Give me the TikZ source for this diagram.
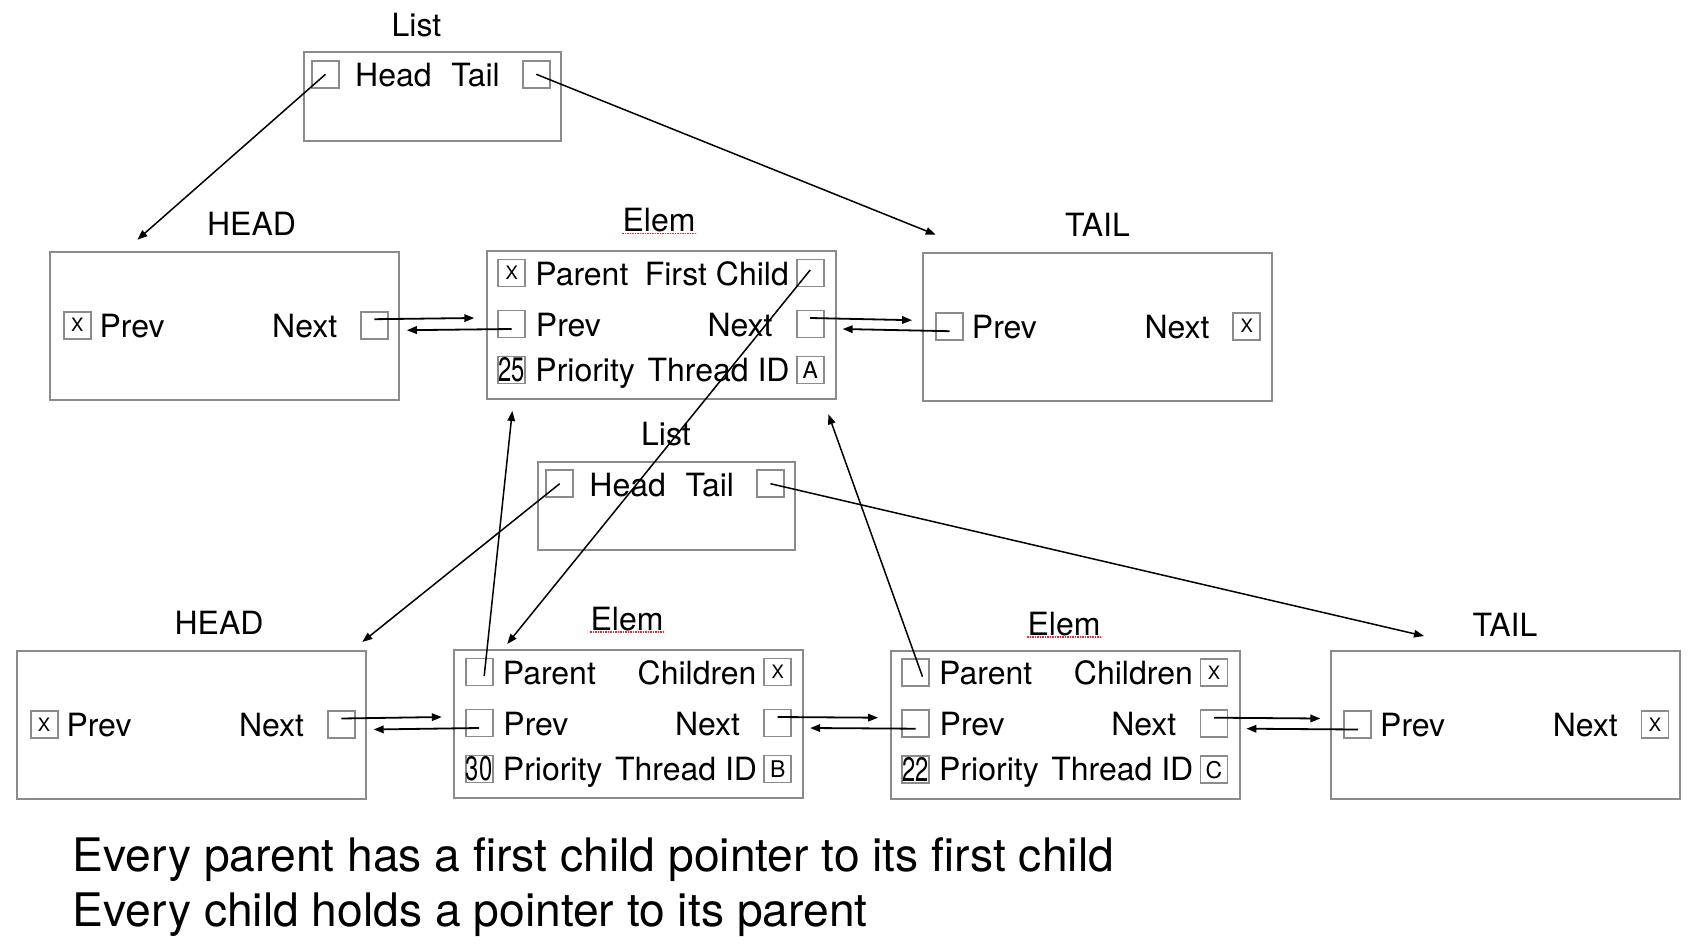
\documentclass[tikz,border=0pt]{standalone}
\usepackage{fontspec}
\setmainfont{TeX Gyre Heros}
\usepackage{tikz}
\usetikzlibrary{arrows.meta}
\definecolor{boxgray}{RGB}{137,139,142}
\definecolor{spellred}{RGB}{225,45,45}

\begin{document}
\begin{tikzpicture}[x=1pt, y=-1pt,
    box/.style={draw=boxgray, line width=2pt, minimum width=349pt, minimum height=148pt, inner sep=0pt},
    listbox/.style={box, minimum width=257.5pt, minimum height=88.5pt},
    cell/.style={draw=boxgray, line width=1.8pt, minimum size=27pt, inner sep=0pt, font=\fontsize{23}{23}\selectfont},
    xcell/.style={cell, font=\fontsize{18.5}{18.5}\selectfont},
    numcell/.style={cell, font=\fontsize{34}{34}\selectfont},
    txt/.style={inner sep=0pt, font=\fontsize{32}{38}\selectfont},
    note/.style={inner sep=0pt, anchor=base west, font=\fontsize{46.2}{50}\selectfont},
    squiggle/.style={spellred, densely dotted, line width=1.5pt},
    ptr/.style={line width=1.8pt, -{Triangle[length=10pt,width=7.5pt]}},
    link/.style={line width=1.5pt, -{Triangle[length=10pt,width=7.5pt]}}]

  % Page
  \fill[white] (0,0) rectangle (1694,952);

  % List (top)
  \node[txt, anchor=base] (l1lbl) at (416.5,36.7) {List};
  \node[listbox] (l1) at (432.25,96.55) {};
  \node[cell] (l1head) at (325.5,74.3) {};
  \node[txt, anchor=base west] (l1htxt) at (355,86.8) {Head};
  \node[txt, anchor=base east] (l1ttxt) at (500,86.8) {Tail};
  \node[cell] (l1tail) at (536.3,74.3) {};

  % HEAD (top)
  \node[txt, anchor=base] (h1lbl) at (251.5,235) {HEAD};
  \node[box] (h1) at (224.9,325.7) {};
  \node[xcell] (h1prev) at (77.2,325.2) {X};
  \node[txt, anchor=base west] (h1ptxt) at (99.4,337.2) {Prev};
  \node[txt, anchor=base east] (h1ntxt) at (337.4,337.2) {Next};
  \node[cell] (h1next) at (374.4,325.2) {};

  % Elem (top, thread A)
  \node[txt, anchor=base] (e1lbl) at (659,231.5) {Elem};
  \draw[squiggle] ([yshift=-2pt]e1lbl.base west) -- ([yshift=-2pt]e1lbl.base east);
  \node[box] (e1) at (661.2,325) {};
  \node[xcell] (e1par) at (511.7,273) {X};
  \node[txt, anchor=base west] (e1partxt) at (535.2,285) {Parent};
  \node[txt, anchor=base east] (e1fctxt) at (789,285) {First Child};
  \node[cell] (e1fc) at (810.2,273) {};
  \node[cell] (e1prev) at (511.7,324) {};
  \node[txt, anchor=base west] (e1ptxt) at (535.7,336) {Prev};
  \node[txt, anchor=base east] (e1ntxt) at (772.7,336) {Next};
  \node[cell] (e1next) at (810.2,324) {};
  \node[numcell] (e1pri) at (511.7,370) {\scalebox{0.7}[1]{25}};
  \node[txt, anchor=base west] (e1pritxt) at (535.2,381) {Priority};
  \node[txt, anchor=base east] (e1tidtxt) at (789.7,381) {Thread ID};
  \node[cell] (e1tid) at (810.2,370) {A};

  % TAIL (top)
  \node[txt, anchor=base] (t1lbl) at (1097.5,236.7) {TAIL};
  \node[box] (t1) at (1097.2,326.7) {};
  \node[cell] (t1prev) at (949.5,326.2) {};
  \node[txt, anchor=base west] (t1ptxt) at (971.7,338.2) {Prev};
  \node[txt, anchor=base east] (t1ntxt) at (1209.7,338.2) {Next};
  \node[xcell] (t1next) at (1246.7,326.2) {X};

  % List (children of A)
  \node[txt, anchor=base] (l2lbl) at (666,445) {List};
  \node[listbox] (l2) at (666.45,505.95) {};
  \node[cell] (l2head) at (559.7,483.7) {};
  \node[txt, anchor=base west] (l2htxt) at (589.2,496.2) {Head};
  \node[txt, anchor=base east] (l2ttxt) at (734.2,496.2) {Tail};
  \node[cell] (l2tail) at (770.5,483.7) {};

  % HEAD (bottom)
  \node[txt, anchor=base] (h2lbl) at (219,634) {HEAD};
  \node[box] (h2) at (191.8,725) {};
  \node[xcell] (h2prev) at (44.1,724.5) {X};
  \node[txt, anchor=base west] (h2ptxt) at (66.3,736.5) {Prev};
  \node[txt, anchor=base east] (h2ntxt) at (304.3,736.5) {Next};
  \node[cell] (h2next) at (341.3,724.5) {};

  % Elem (thread B)
  \node[txt, anchor=base] (e2lbl) at (627,630) {Elem};
  \draw[squiggle] ([yshift=-2pt]e2lbl.base west) -- ([yshift=-2pt]e2lbl.base east);
  \node[box] (e2) at (628.7,724) {};
  \node[cell] (e2par) at (479.2,672) {};
  \node[txt, anchor=base west] (e2partxt) at (502.7,684) {Parent};
  \node[txt, anchor=base east] (e2chtxt) at (756.7,684) {Children};
  \node[xcell] (e2ch) at (777.7,672) {X};
  \node[cell] (e2prev) at (479.2,723) {};
  \node[txt, anchor=base west] (e2ptxt) at (503.2,735) {Prev};
  \node[txt, anchor=base east] (e2ntxt) at (740.2,735) {Next};
  \node[cell] (e2next) at (777.7,723) {};
  \node[numcell] (e2pri) at (479.2,769) {\scalebox{0.7}[1]{30}};
  \node[txt, anchor=base west] (e2pritxt) at (502.7,780) {Priority};
  \node[txt, anchor=base east] (e2tidtxt) at (757.2,780) {Thread ID};
  \node[cell] (e2tid) at (777.7,769) {B};

  % Elem (thread C)
  \node[txt, anchor=base] (e3lbl) at (1064,635) {Elem};
  \draw[squiggle] ([yshift=-2pt]e3lbl.base west) -- ([yshift=-2pt]e3lbl.base east);
  \node[box] (e3) at (1065,724.7) {};
  \node[cell] (e3par) at (915.5,672.7) {};
  \node[txt, anchor=base west] (e3partxt) at (939,684.7) {Parent};
  \node[txt, anchor=base east] (e3chtxt) at (1193,684.7) {Children};
  \node[xcell] (e3ch) at (1214,672.7) {X};
  \node[cell] (e3prev) at (915.5,723.7) {};
  \node[txt, anchor=base west] (e3ptxt) at (939.5,735.7) {Prev};
  \node[txt, anchor=base east] (e3ntxt) at (1176.5,735.7) {Next};
  \node[cell] (e3next) at (1214,723.7) {};
  \node[numcell] (e3pri) at (915.5,769.7) {\scalebox{0.7}[1]{22}};
  \node[txt, anchor=base west] (e3pritxt) at (939,780.7) {Priority};
  \node[txt, anchor=base east] (e3tidtxt) at (1193.5,780.7) {Thread ID};
  \node[cell] (e3tid) at (1214,769.7) {C};

  % TAIL (bottom)
  \node[txt, anchor=base] (t2lbl) at (1505,636) {TAIL};
  \node[box] (t2) at (1505.5,725) {};
  \node[cell] (t2prev) at (1357.8,724.5) {};
  \node[txt, anchor=base west] (t2ptxt) at (1380,736.5) {Prev};
  \node[txt, anchor=base east] (t2ntxt) at (1618,736.5) {Next};
  \node[xcell] (t2next) at (1655,724.5) {X};

  % Head and tail pointers of the lists
  \draw[link] (l1head.center) -- ([shift={(88,-11)}]h1.north west);
  \draw[link] (l1tail.center) -- ([shift={(14,-17)}]t1.north west);
  \draw[link] (l2head.center) -- ([shift={(-5,-8)}]h2.north east);
  \draw[link] (l2tail.center) -- ([shift={(94,-14)}]t2.north west);

  % Next and prev pointers (top)
  \draw[ptr] ([shift={(0,-6)}]h1next.center) -- ([shift={(-23,-6)}]e1prev.west);
  \draw[ptr] ([shift={(0,5)}]e1prev.center) -- ([shift={(18,5)}]h1next.east);
  \draw[ptr] ([shift={(0,-6)}]e1next.center) -- ([shift={(-23,-6)}]t1prev.west);
  \draw[ptr] ([shift={(0,5)}]t1prev.center) -- ([shift={(18,5)}]e1next.east);

  % Next and prev pointers (bottom)
  \draw[ptr] ([shift={(0,-6)}]h2next.center) -- ([shift={(-23,-6)}]e2prev.west);
  \draw[ptr] ([shift={(0,5)}]e2prev.center) -- ([shift={(18,5)}]h2next.east);
  \draw[ptr] ([shift={(0,-6)}]e2next.center) -- ([shift={(-23,-6)}]e3prev.west);
  \draw[ptr] ([shift={(0,5)}]e3prev.center) -- ([shift={(18,5)}]e2next.east);
  \draw[ptr] ([shift={(0,-6)}]e3next.center) -- ([shift={(-23,-6)}]t2prev.west);
  \draw[ptr] ([shift={(0,5)}]t2prev.center) -- ([shift={(18,5)}]e3next.east);

  % First child and parent pointers
  \draw[link] ([shift={(0,-3)}]e1fc.center) -- ([shift={(54,-5)}]e2.north west);
  \draw[link] ([shift={(5,4)}]e2par.center) -- ([shift={(26.6,11)}]e1.south west);
  \draw[link] ([shift={(7,4)}]e3par.center) -- ([shift={(-8.3,14.3)}]e1.south east);

  % Notes
  \node[note] (note1) at (72.7,871.7) {Every parent has a first child pointer to its first child};
  \node[note] (note2) at (72.7,926.5) {Every child holds a pointer to its parent};
\end{tikzpicture}
\end{document}
